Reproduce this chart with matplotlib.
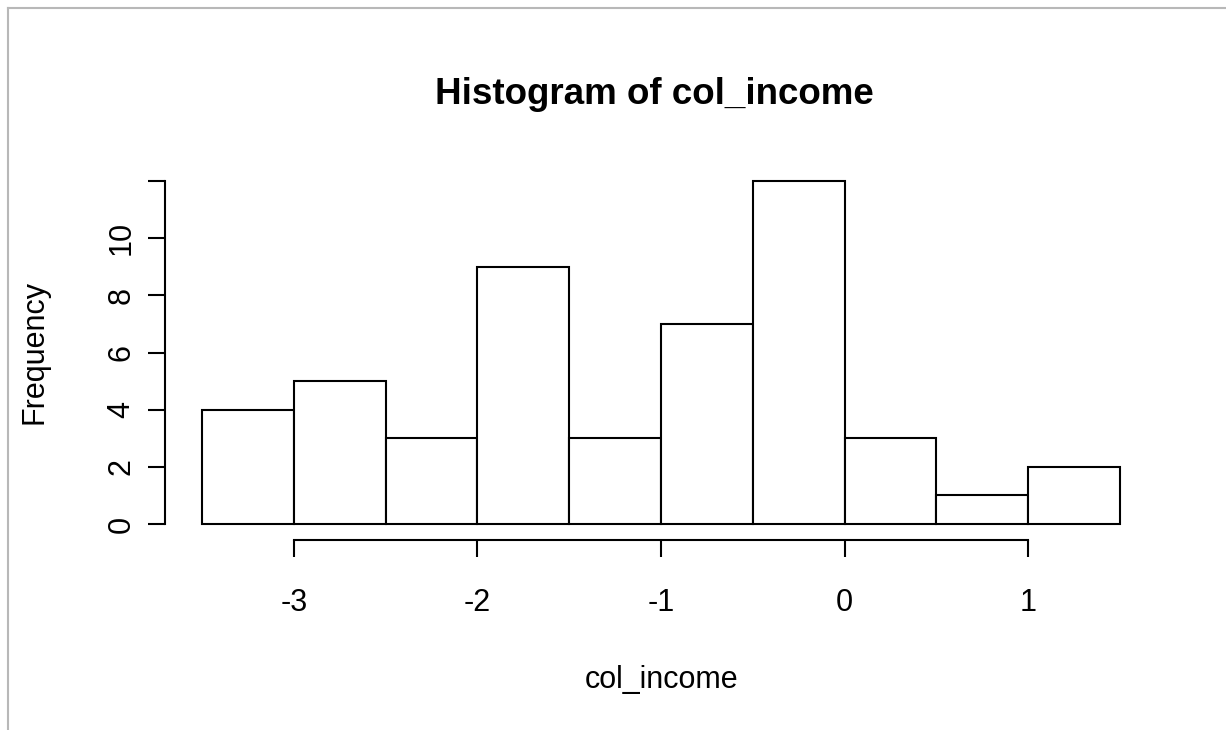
import numpy as np
import matplotlib.pyplot as plt
from matplotlib.lines import Line2D

# histogram data
bin_edges = [-3.5, -3.0, -2.5, -2.0, -1.5, -1.0, -0.5, 0.0, 0.5, 1.0, 1.5]
counts = [4, 5, 3, 9, 3, 7, 12, 3, 1, 2]
x_ticks = [-3, -2, -1, 0, 1]
y_ticks = [0, 2, 4, 6, 8, 10, 12]
y_labels = ["0", "2", "4", "6", "8", "10", ""]

plt.rcParams['font.family'] = ['Liberation Sans', 'DejaVu Sans']

W, H = 1226, 730
fig = plt.figure(figsize=(W / 100, H / 100), dpi=100)

# axes placed so that the data range matches the reference pixels
left, right, top, bottom = 202, 1120, 181, 524
ax = fig.add_axes([left / W, 1 - bottom / H, (right - left) / W, (bottom - top) / H])
ax.set_xlim(bin_edges[0], bin_edges[-1])
ax.set_ylim(0, 12)

widths = np.diff(bin_edges)
ax.bar(bin_edges[:-1], counts, width=widths, align='edge', color='white',
       edgecolor='black', linewidth=1.5, clip_on=False)

for s in ['top', 'right']:
    ax.spines[s].set_visible(False)
ax.spines['left'].set_position(('outward', 37 * 0.72))
ax.spines['bottom'].set_position(('outward', 16 * 0.72))
ax.spines['left'].set_bounds(0, 12)
ax.spines['bottom'].set_bounds(-3, 1)
for s in ['left', 'bottom']:
    ax.spines[s].set_linewidth(1.5)

ax.set_xticks(x_ticks)
ax.set_xticklabels([str(t) for t in x_ticks])
ax.set_yticks(y_ticks)
ax.set_yticklabels(y_labels, rotation=90, va='center')
ax.tick_params(axis='both', length=12.5, width=1.5, labelsize=22)
ax.tick_params(axis='x', pad=22)
ax.tick_params(axis='y', pad=8)

fig.text(662 / W, 1 - 680 / H, 'col_income', fontsize=22, ha='center', va='center')
fig.text(35 / W, 1 - 352 / H, 'Frequency', fontsize=22, rotation=90,
         ha='center', va='center')
fig.text(654 / W, 1 - 94 / H, 'Histogram of col_income', fontsize=26.5,
         fontweight='bold', ha='center', va='center')

# screenshot frame on the top and left
fig.add_artist(Line2D([8 / W, 8 / W], [0, 1 - 8 / H], transform=fig.transFigure,
                      color='#b8b8b8', linewidth=1.5))
fig.add_artist(Line2D([8 / W, 1], [1 - 8 / H, 1 - 8 / H], transform=fig.transFigure,
                      color='#b8b8b8', linewidth=1.5))

plt.savefig('out.png', dpi=100)
